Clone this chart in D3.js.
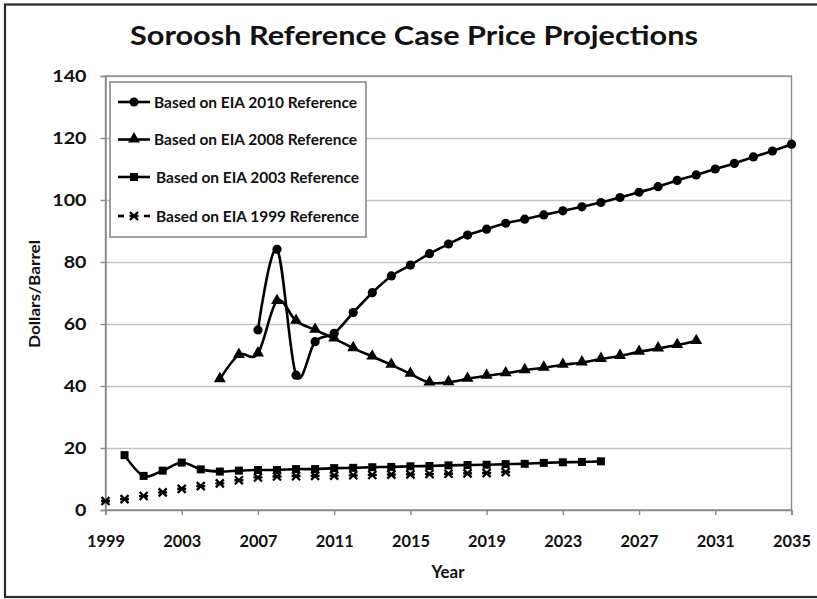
<!DOCTYPE html>
<html>
<head>
<meta charset="utf-8">
<script src="https://cdn.jsdelivr.net/npm/d3@7"></script>
<style>
  html, body { margin: 0; padding: 0; background: #fff; }
  svg { display: block; }
  text { font-family: Lato, "Open Sans", "DejaVu Sans", sans-serif; font-weight: bold; fill: #111; }
</style>
</head>
<body>
<svg id="chart" width="817" height="599"></svg>
<script>
// ---------- data ----------
const titleText = "Soroosh Reference Case Price Projections";
const yAxisTitle = "Dollars/Barrel";
const xAxisTitle = "Year";
const xTickValues = [1999, 2003, 2007, 2011, 2015, 2019, 2023, 2027, 2031, 2035];
const yTickValues = [0, 20, 40, 60, 80, 100, 120, 140];

const seriesNames = [
  "Based on EIA 2010 Reference",
  "Based on EIA 2008 Reference",
  "Based on EIA 2003 Reference",
  "Based on EIA 1999 Reference"
];

const years2010 = [2007, 2008, 2009, 2010, 2011, 2012, 2013, 2014, 2015, 2016, 2017, 2018, 2019, 2020, 2021,
                   2022, 2023, 2024, 2025, 2026, 2027, 2028, 2029, 2030, 2031, 2032, 2033, 2034, 2035];
const values2010 = [58.1, 84.1, 43.5, 54.3, 57.0, 63.7, 70.1, 75.5, 79.0, 82.7, 85.8, 88.7, 90.6, 92.5, 93.8,
                    95.2, 96.5, 97.8, 99.2, 100.8, 102.5, 104.3, 106.3, 108.1, 110.0, 111.8, 113.9, 115.8, 118.0];

const years2008 = [2005, 2006, 2007, 2008, 2009, 2010, 2011, 2012, 2013, 2014, 2015, 2016, 2017, 2018, 2019,
                   2020, 2021, 2022, 2023, 2024, 2025, 2026, 2027, 2028, 2029, 2030];
const values2008 = [42.2, 50.0, 50.5, 67.4, 61.0, 58.1, 55.3, 52.2, 49.5, 46.8, 43.9, 41.1, 41.2, 42.3, 43.3,
                    44.1, 45.1, 45.9, 46.8, 47.6, 48.7, 49.7, 51.0, 52.1, 53.2, 54.5];

const years2003 = [2000, 2001, 2002, 2003, 2004, 2005, 2006, 2007, 2008, 2009, 2010, 2011, 2012, 2013, 2014,
                   2015, 2016, 2017, 2018, 2019, 2020, 2021, 2022, 2023, 2024, 2025];
const values2003 = [17.7, 11.0, 12.7, 15.3, 13.1, 12.4, 12.7, 12.9, 12.9, 13.2, 13.2, 13.5, 13.6, 13.8, 13.9,
                    14.1, 14.2, 14.4, 14.5, 14.6, 14.8, 14.9, 15.2, 15.4, 15.5, 15.7];

const years1999 = [1999, 2000, 2001, 2002, 2003, 2004, 2005, 2006, 2007, 2008, 2009, 2010, 2011, 2012, 2013,
                   2014, 2015, 2016, 2017, 2018, 2019, 2020];
const values1999 = [2.9, 3.5, 4.5, 5.7, 6.8, 7.7, 8.6, 9.6, 10.5, 10.8, 10.9, 11.0, 11.1, 11.2, 11.3,
                    11.4, 11.5, 11.6, 11.7, 11.8, 11.9, 12.2];

// ---------- layout ----------
const svg = d3.select("#chart");
const plot = { left: 105.5, right: 791.5, top: 76, bottom: 510 };

const x = d3.scaleLinear().domain([1999, 2035]).range([plot.left, plot.right]);
const y = d3.scaleLinear().domain([0, 140]).range([plot.bottom, plot.top]);

function fit(sel, w) { sel.attr("textLength", w).attr("lengthAdjust", "spacingAndGlyphs"); }
const FONT = "Lato, 'Open Sans', sans-serif";

// outer frame
svg.append("rect").attr("x", 5).attr("y", 4.5).attr("width", 830).attr("height", 592.5)
  .attr("fill", "none").attr("stroke", "#2a2a2a").attr("stroke-width", 2.2);

// title
svg.append("text").attr("x", 130).attr("y", 45).style("font-size", "26px")
  .text(titleText).call(fit, 568);

// gridlines
svg.append("g").attr("transform", `translate(${plot.left},0)`)
  .call(d3.axisLeft(y).tickValues(yTickValues.filter(v => v > 0)).tickSize(-(plot.right - plot.left)).tickFormat(""))
  .call(g => g.select(".domain").remove())
  .call(g => g.selectAll("line").attr("stroke", "#c4c4c4").attr("stroke-width", 1.5));

// plot area border
svg.append("rect").attr("x", plot.left).attr("y", plot.top)
  .attr("width", plot.right - plot.left).attr("height", plot.bottom - plot.top)
  .attr("fill", "none").attr("stroke", "#8a8a8a").attr("stroke-width", 1.4);

// y axis
const yAxisG = svg.append("g").attr("transform", `translate(${plot.left},0)`)
  .call(d3.axisLeft(y).tickValues(yTickValues).tickSize(5).tickPadding(14));
yAxisG.select(".domain").attr("stroke", "#8a8a8a").attr("stroke-width", 1.4);
yAxisG.selectAll(".tick line").attr("stroke", "#8a8a8a").attr("stroke-width", 1.4);
yAxisG.selectAll(".tick text").style("font-size", "17.5px").attr("fill", "#111")
  .style("font-family", FONT).style("font-weight", "bold")
  .each(function(d) { d3.select(this).call(fit, String(d).length * 11.4); });

// x axis
const xAxisG = svg.append("g").attr("transform", `translate(0,${plot.bottom})`)
  .call(d3.axisBottom(x).tickValues(xTickValues).tickSize(5).tickPadding(20).tickFormat(d3.format("d")));
xAxisG.select(".domain").attr("stroke", "#8a8a8a").attr("stroke-width", 1.4);
xAxisG.selectAll(".tick line").attr("stroke", "#8a8a8a").attr("stroke-width", 1.4);
xAxisG.selectAll(".tick text").style("font-size", "17.5px").attr("fill", "#111")
  .style("font-family", FONT).style("font-weight", "bold")
  .call(fit, 38);

// axis titles
svg.append("text").attr("x", 448).attr("y", 578).attr("text-anchor", "middle")
  .style("font-size", "16.5px").text(xAxisTitle).call(fit, 33);
svg.append("text").attr("transform", "translate(40,294) rotate(-90)").attr("text-anchor", "middle")
  .style("font-size", "16px").text(yAxisTitle).call(fit, 108);

// ---------- series ----------
const xMarkPath = "M-4,-4L4,4M-4,4L4,-4M-4.5,0L4.5,0";
const series = [
  { name: seriesNames[0], years: years2010, values: values2010, marker: "circle", line: true },
  { name: seriesNames[1], years: years2008, values: values2008, marker: "triangle", line: true },
  { name: seriesNames[2], years: years2003, values: values2003, marker: "square", line: true },
  { name: seriesNames[3], years: years1999, values: values1999, marker: "x", line: false }
];

function drawMarker(g, type) {
  if (type === "circle") {
    g.append("circle").attr("r", 4.6).attr("fill", "#000");
  } else if (type === "triangle") {
    g.append("path").attr("d", d3.symbol(d3.symbolTriangle, 62)()).attr("transform", "translate(0,-0.5)").attr("fill", "#000");
  } else if (type === "square") {
    g.append("rect").attr("x", -4).attr("y", -4).attr("width", 8).attr("height", 8).attr("fill", "#000");
  } else {
    g.append("path").attr("d", xMarkPath).attr("stroke", "#000").attr("stroke-width", 2.3).attr("fill", "none");
  }
}

const lineGen = d3.line().curve(d3.curveCatmullRom.alpha(0)).x(d => x(d[0])).y(d => y(d[1]));

// draw in reverse order so the 2010 series sits on top
series.slice().reverse().forEach(s => {
  const pts = s.years.map((yr, i) => [yr, s.values[i]]);
  const g = svg.append("g");
  if (s.line) {
    g.append("path").datum(pts).attr("d", lineGen)
      .attr("fill", "none").attr("stroke", "#000").attr("stroke-width", 2.6);
  }
  g.selectAll("g.m").data(pts).enter().append("g").attr("class", "m")
    .attr("transform", d => `translate(${x(d[0])},${y(d[1])})`)
    .each(function() { drawMarker(d3.select(this), s.marker); });
});

// ---------- legend ----------
const legend = svg.append("g");
legend.append("rect").attr("x", 110).attr("y", 82).attr("width", 256).attr("height", 155)
  .attr("fill", "#fff").attr("stroke", "#8a8a8a").attr("stroke-width", 1.6);
const legendY = [102, 139.5, 177, 216];
const legendTextX = [154, 154, 156, 156];
series.forEach((s, i) => {
  const gy = legendY[i];
  const g = legend.append("g");
  if (s.line) {
    g.append("line").attr("x1", 118).attr("x2", 150).attr("y1", gy).attr("y2", gy)
      .attr("stroke", "#000").attr("stroke-width", 2.6);
  } else {
    g.append("line").attr("x1", 118).attr("x2", 124).attr("y1", gy).attr("y2", gy)
      .attr("stroke", "#000").attr("stroke-width", 2.6);
    g.append("line").attr("x1", 144).attr("x2", 150).attr("y1", gy).attr("y2", gy)
      .attr("stroke", "#000").attr("stroke-width", 2.6);
  }
  const m = g.append("g").attr("transform", `translate(134,${gy})`);
  drawMarker(m, s.marker);
  g.append("text").attr("x", legendTextX[i]).attr("y", gy + 5.8).style("font-size", "16px")
    .text(s.name).call(fit, 203);
});
</script>
</body>
</html>
